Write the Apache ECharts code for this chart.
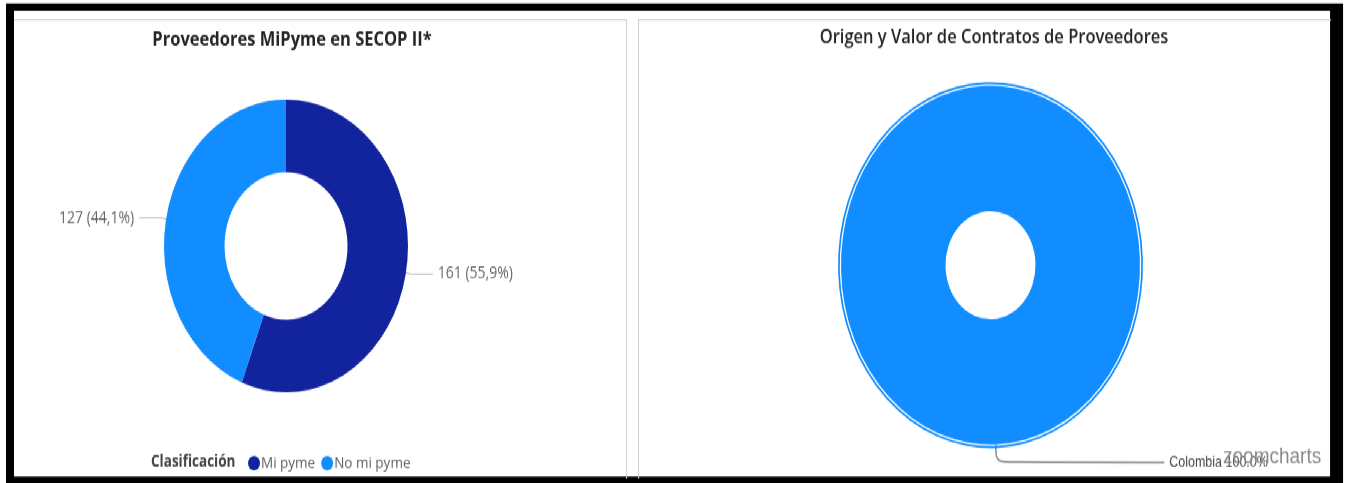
<!DOCTYPE html>
<html>
<head>
<meta charset="utf-8">
<script src="https://cdn.jsdelivr.net/npm/echarts@6/dist/echarts.min.js"></script>
<style>
    html, body { margin: 0; padding: 0; background: #fff; overflow: hidden; }
    /* the reference is stretched vertically by about 1.2, so draw at 403px high and scale */
    #wrap { position: absolute; left: 0; top: 0; width: 1345px; height: 403px;
            transform: scale(1, 1.2); transform-origin: 0 0; }
    #frame { position: absolute; left: 6px; top: 3.3px; width: 1316px; height: 388px;
             border-style: solid; border-color: #000; border-width: 6.7px 13px 10px 8px; background: #fff; }
    .panel { position: absolute; top: 16.3px; height: 382px; border-top: 1px solid #cfcfcf; }
    #p1 { left: 14px; width: 612px; border-right: 1px solid #cfcfcf; }
    #p2 { left: 638px; width: 692px; border-left: 1px solid #cfcfcf; }
    #chart { position: absolute; left: 0; top: 0; width: 1345px; height: 403px; }
</style>
</head>
<body>
<div id="wrap">
    <div id="frame"></div>
    <div class="panel" id="p1"></div>
    <div class="panel" id="p2"></div>
    <div id="chart"></div>
</div>
<script>
    // Proveedores MiPyme en SECOP II
    var clasificacion = ['Mi pyme', 'No mi pyme'];
    var proveedores = [161, 127];
    var coloresClasificacion = ['#12239E', '#118DFF'];

    // Origen y valor de contratos
    var paises = ['Colombia'];
    var valorContratos = [100];

    var chart = echarts.init(document.getElementById('chart'));

    var datosMipyme = [];
    for (var i = 0; i < clasificacion.length; i++) {
        datosMipyme.push({name: clasificacion[i], value: proveedores[i], itemStyle: {color: coloresClasificacion[i]}});
    }
    var datosPaises = [];
    for (var j = 0; j < paises.length; j++) {
        datosPaises.push({name: paises[j], value: valorContratos[j]});
    }

    chart.setOption({
        animation: false,
        title: [
            {
                text: 'Proveedores MiPyme en SECOP II*',
                left: 287, top: 20, textAlign: 'center',
                textStyle: {fontFamily: 'Open Sans', fontWeight: 'bold', fontSize: 16.5, color: '#252423'}
            },
            {
                text: 'Origen y Valor de Contratos de Proveedores',
                left: 989, top: 18, textAlign: 'center',
                textStyle: {fontFamily: 'Open Sans', fontWeight: 600, fontSize: 16.5, color: '#252423'}
            }
        ],
        legend: {
            data: clasificacion,
            left: 243, top: 374,
            icon: 'circle',
            itemWidth: 12, itemHeight: 12, itemGap: 6,
            textStyle: {fontFamily: 'Open Sans', fontSize: 13.5, color: '#605E5C', padding: [0, 0, 0, -4]}
        },
        graphic: [
            {
                type: 'text', left: 151, top: 378,
                style: {text: 'Clasificación', fontFamily: 'Open Sans', fontWeight: 'bold', fontSize: 13.5, fill: '#444'}
            },
            {
                type: 'text', left: 1223, top: 371, z: 100,
                style: {text: 'zoomcharts', fontFamily: 'Liberation Sans', fontSize: 19, fill: '#8a8a8a'}
            }
        ],
        series: [
            {
                type: 'pie',
                center: [286, 205],
                radius: [61.5, 122],
                startAngle: 90,
                data: datosMipyme,
                label: {
                    fontFamily: 'Open Sans', fontSize: 14, color: '#666',
                    formatter: function (p) {
                        return p.value + ' (' + p.percent.toFixed(1).replace('.', ',') + '%)';
                    }
                },
                labelLine: {length: 5, length2: 22, lineStyle: {color: '#bbb', width: 1}},
                emphasis: {disabled: true}
            },
            {
                type: 'pie',
                center: [990.5, 221],
                radius: [45, 149.5],
                startAngle: 92,
                data: datosPaises,
                itemStyle: {color: '#118DFF'},
                label: {
                    fontFamily: 'Liberation Sans', fontSize: 12.5, color: '#444',
                    formatter: function (p) {
                        return p.name + ' ' + p.percent.toFixed(1) + '%';
                    }
                },
                labelLine: {length: 15, length2: 168, smooth: 0.3, lineStyle: {color: '#888', width: 1.5}},
                emphasis: {disabled: true}
            },
            {
                // thin outer ring leaving a white line near the edge, as in the reference
                type: 'pie',
                center: [990.5, 221],
                radius: [150.8, 152.5],
                startAngle: 92,
                silent: true,
                data: datosPaises,
                itemStyle: {color: '#118DFF'},
                label: {show: false},
                labelLine: {show: false}
            }
        ]
    });
</script>
</body>
</html>
